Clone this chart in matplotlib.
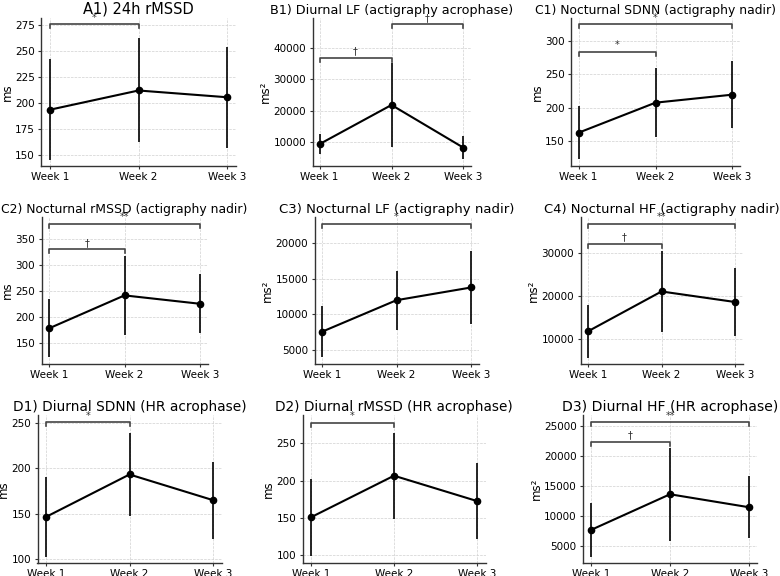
import matplotlib
matplotlib.use("Agg")
import matplotlib.pyplot as plt

weeks = ["Week 1", "Week 2", "Week 3"]

titles = [
    "A1) 24h rMSSD",
    "B1) Diurnal LF (actigraphy acrophase)",
    "C1) Nocturnal SDNN (actigraphy nadir)",
    "C2) Nocturnal rMSSD (actigraphy nadir)",
    "C3) Nocturnal LF (actigraphy nadir)",
    "C4) Nocturnal HF (actigraphy nadir)",
    "D1) Diurnal SDNN (HR acrophase)",
    "D2) Diurnal rMSSD (HR acrophase)",
    "D3) Diurnal HF (HR acrophase)",
]
units = ["ms", "ms²", "ms", "ms", "ms²", "ms²", "ms", "ms", "ms²"]

means_a1 = [193.5, 212, 205.5]
sd_a1 = [48.5, 50, 48.5]
means_b1 = [9260, 21800, 8100]
sd_b1 = [3350, 13400, 3750]
means_c1 = [162.5, 207.5, 219.5]
sd_c1 = [39.5, 51.3, 50.3]
means_c2 = [177.8, 241.5, 225.3]
sd_c2 = [55.9, 75.6, 56.7]
means_c3 = [7560, 11980, 13760]
sd_c3 = [3560, 4120, 5050]
means_c4 = [11780, 21050, 18600]
sd_c4 = [6110, 9455, 7845]
means_d1 = [146.2, 193.3, 164.8]
sd_d1 = [44.4, 46.1, 42.5]
means_d2 = [150.6, 206.5, 172.4]
sd_d2 = [52.1, 57.6, 50.8]
means_d3 = [7660, 13600, 11440]
sd_d3 = [4440, 7760, 5165]

# brackets: (from week index, to week index, bracket height, label)
brackets_a1 = [(0, 1, 275.6, "*")]
brackets_b1 = [(0, 1, 37000, "†"), (1, 2, 47700, "†")]
brackets_c1 = [(0, 1, 284, "*"), (0, 2, 325.5, "*")]
brackets_c2 = [(0, 1, 330.7, "†"), (0, 2, 380, "**")]
brackets_c3 = [(0, 2, 22700, "*")]
brackets_c4 = [(0, 1, 32170, "†"), (0, 2, 36800, "**")]
brackets_d1 = [(0, 1, 251.1, "*")]
brackets_d2 = [(0, 1, 277.9, "*")]
brackets_d3 = [(0, 1, 22340, "†"), (0, 2, 25560, "**")]

yticks = [
    [150, 175, 200, 225, 250, 275],
    [10000, 20000, 30000, 40000],
    [150, 200, 250, 300],
    [150, 200, 250, 300, 350],
    [5000, 10000, 15000, 20000],
    [10000, 20000, 30000],
    [100, 150, 200, 250],
    [100, 150, 200, 250],
    [5000, 10000, 15000, 20000, 25000],
]

all_means = [means_a1, means_b1, means_c1, means_c2, means_c3, means_c4, means_d1, means_d2, means_d3]
all_sd = [sd_a1, sd_b1, sd_c1, sd_c2, sd_c3, sd_c4, sd_d1, sd_d2, sd_d3]
all_brackets = [brackets_a1, brackets_b1, brackets_c1, brackets_c2, brackets_c3, brackets_c4,
                brackets_d1, brackets_d2, brackets_d3]

# layout in pixels (left, right, top, bottom) and y limits
W, H = 780, 576
boxes = [
    (41, 236, 18, 166), (312.5, 470.5, 18, 166), (571, 740, 18, 166),
    (41.5, 207.5, 217, 364), (314.5, 478.5, 217, 364), (580.5, 742.5, 217, 364),
    (37.5, 221.5, 415, 563), (302.5, 485.5, 415, 563), (583, 757, 415, 563),
]
ylims = [
    (139.4, 281.7), (2200, 49740), (112.5, 334.5),
    (108.9, 393), (3045, 23630), (4210, 38340),
    (95.2, 259.2), (89.3, 288), (2170, 26780),
]
title_sizes = [10.5, 9.15, 8.95, 8.95, 9.5, 9.45, 9.9, 9.8, 10.1]

fig = plt.figure(figsize=(W / 100, H / 100), dpi=100)

for k in range(9):
    l, r, t, b = boxes[k]
    ax = fig.add_axes([l / W, 1 - b / H, (r - l) / W, (b - t) / H])
    x = list(range(3))
    ax.errorbar(x, all_means[k], yerr=all_sd[k], fmt="-o", color="black",
                ecolor="black", elinewidth=1.2, lw=1.5, ms=4.5, capsize=0, zorder=3)
    ax.set_xlim(-0.1, 2.1)
    ax.set_ylim(*ylims[k])
    ax.set_xticks(x)
    ax.set_xticklabels(weeks)
    ax.set_yticks(yticks[k])
    ax.grid(True, linestyle="--", linewidth=0.5, color="#d0d0d0")
    ax.set_axisbelow(True)
    for s in ["top", "right"]:
        ax.spines[s].set_visible(False)
    for s in ["left", "bottom"]:
        ax.spines[s].set_color("#333333")
        ax.spines[s].set_linewidth(1.0)
    ax.tick_params(axis="both", labelsize=7.5, length=2.5, width=0.8, color="#333333", pad=2)
    ax.set_ylabel(units[k], fontsize=8.5, labelpad=1)
    ax.set_title(titles[k], fontsize=title_sizes[k], pad=3)

    span = ylims[k][1] - ylims[k][0]
    ppu = (b - t) / span
    drop = 4 / ppu
    for (i, j, yb, lab) in all_brackets[k]:
        ax.plot([i, i, j, j], [yb - drop, yb, yb, yb - drop], color="#444444", lw=1.2,
                clip_on=False, zorder=4)
        ax.annotate(lab, xy=((i + j) / 2, yb), xytext=(0, 1), textcoords="offset points",
                    ha="center", va="bottom", fontsize=7, color="#333333",
                    annotation_clip=False)

fig.savefig("out.png", dpi=100)
